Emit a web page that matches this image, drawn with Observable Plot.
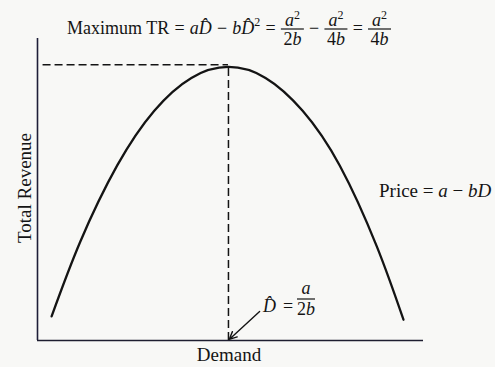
<!DOCTYPE html>
<html><head><meta charset="utf-8">
<script src="https://cdn.jsdelivr.net/npm/d3@7"></script>
<script src="https://cdn.jsdelivr.net/npm/@observablehq/plot@0.6"></script>
<style>
html,body{margin:0;padding:0;background:#f8f8f6;}
#chart{width:495px;height:367px;}
svg{display:block;}
</style></head><body><div id="chart"></div>
<script>
// Demand (D) and Total Revenue
const demand = [0.23, 1, 2, 3, 4, 5, 6, 7, 8, 9, 9.72];
const totalRevenue = [2.2, 9.0, 16.0, 21.0, 24.0, 25.0, 24.0, 21.0, 16.0, 8.6, 1.9];
const optimumDemand = [5];
const maxRevenue = [25.2];
const xExtent = [-0.15, 10.26];
const yExtent = [0, 27.6];
const arrowFrom = [5.84, 2.66];
const arrowTo = [5.02, 0.1];

const curve = demand.map((d, i) => ({D: d, TR: totalRevenue[i]}));

const FONT = "'Liberation Serif', 'DejaVu Serif', serif";
const INK = "#141414";

const svg = Plot.plot({
  width: 495, height: 367,
  marginLeft: 37, marginRight: 72, marginTop: 38, marginBottom: 27,
  x: {domain: xExtent, axis: null},
  y: {domain: yExtent, axis: null},
  style: {background: "transparent", fontFamily: FONT},
  marks: [
    Plot.ruleX([xExtent[0]], {y1: yExtent[0], y2: yExtent[1], stroke: "#1e1e38", strokeWidth: 1.6}),
    Plot.ruleY([yExtent[0]], {x1: xExtent[0], x2: xExtent[1], stroke: "#1e1e30", strokeWidth: 1.6}),
    Plot.ruleY(maxRevenue, {x1: 0, x2: optimumDemand[0], stroke: INK, strokeWidth: 1.5, strokeDasharray: "8,4"}),
    Plot.ruleX(optimumDemand, {y1: 0, y2: maxRevenue[0], stroke: INK, strokeWidth: 1.5, strokeDasharray: "8,4"}),
    Plot.line(curve, {x: "D", y: "TR", curve: "natural", stroke: INK, strokeWidth: 2.3}),
    Plot.arrow([{x1: arrowFrom[0], y1: arrowFrom[1], x2: arrowTo[0], y2: arrowTo[1]}],
      {x1: "x1", y1: "y1", x2: "x2", y2: "y2", stroke: INK, strokeWidth: 1.4, headLength: 9, headAngle: 50})
  ]
});
document.getElementById("chart").appendChild(svg);

const g = d3.select(svg).append("g")
  .attr("font-family", FONT).attr("font-size", 18).attr("fill", INK);

function txt(parent, x, y, anchor) {
  return parent.append("text").attr("x", x).attr("y", y).attr("text-anchor", anchor || "start");
}
function span(t, s, italic, opts) {
  const ts = t.append("tspan").text(s);
  if (italic) ts.attr("font-style", "italic");
  if (opts) for (const k in opts) ts.attr(k, opts[k]);
  return ts;
}

// Title formula, laid out piece by piece
const B = 34;
const titleG = g.append("g");
const pieces = [];
function piece(build) { const p = titleG.append("g"); build(p); pieces.push(p); }
function fracPiece(denNum) {
  piece(p => {
    const hw = 11.5;
    const n = txt(p, hw, B - 8, "middle");
    span(n, "a", true);
    span(n, "2", false, {"font-size": 12, dy: -7});
    p.append("line").attr("x1", 0).attr("x2", 2 * hw).attr("y1", B - 5).attr("y2", B - 5)
      .attr("stroke", INK).attr("stroke-width", 1.2);
    const d = txt(p, hw, B + 11, "middle");
    span(d, denNum, false);
    span(d, "b", true);
  });
}
piece(p => txt(p, 0, B).text("Maximum TR"));
piece(p => txt(p, 0, B).text("="));
piece(p => { const t = txt(p, 0, B); span(t, "a", true); span(t, "D\u0302", true); });
piece(p => txt(p, 0, B).text("\u2212"));
piece(p => { const t = txt(p, 0, B); span(t, "b", true); span(t, "D\u0302", true); span(t, "2", false, {"font-size": 12, dy: -8}); });
piece(p => txt(p, 0, B).text("="));
fracPiece("2");
piece(p => txt(p, 0, B).text("\u2212"));
fracPiece("4");
piece(p => txt(p, 0, B).text("="));
fracPiece("4");

{
  const startX = 67, endX = 391;
  const widths = pieces.map(p => p.node().getBBox().width);
  const total = widths.reduce((a, b) => a + b, 0);
  const gap = (endX - startX - total) / (pieces.length - 1);
  let x = startX;
  pieces.forEach((p, i) => {
    const bb = p.node().getBBox();
    p.attr("transform", `translate(${x - bb.x},0)`);
    x += widths[i] + gap;
  });
}

// D-hat label
{ const t = txt(g, 263, 312); span(t, "D\u0302", true); }
txt(g, 288, 312, "middle").text("=");
{
  const cx = 306;
  const n = txt(g, cx, 294, "middle"); span(n, "a", true);
  g.append("line").attr("x1", cx - 9).attr("x2", cx + 9).attr("y1", 299).attr("y2", 299)
    .attr("stroke", INK).attr("stroke-width", 1.2);
  const d = txt(g, cx, 315, "middle"); span(d, "2", false); span(d, "b", true);
}

// Price label
{ const t = txt(g, 379, 197).attr("font-size", 19); span(t, "Price = ", false); span(t, "a", true); span(t, " \u2212 ", false); span(t, "bD", true); }

// Axis titles
txt(g, 229, 361, "middle").attr("font-size", 19).text("Demand");
g.append("text").attr("transform", "translate(31,188) rotate(-90)").attr("text-anchor", "middle")
  .attr("font-size", 19).text("Total Revenue");
</script></body></html>
